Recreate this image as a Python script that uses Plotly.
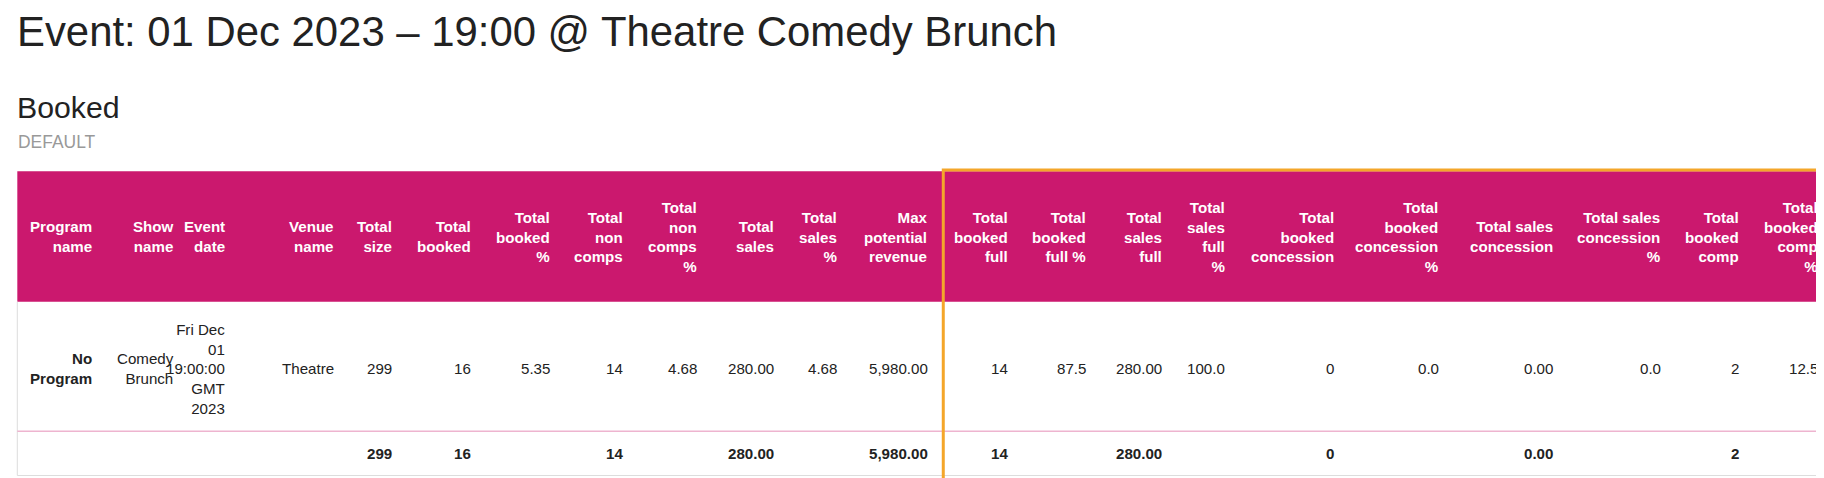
import plotly.graph_objects as go

# table data
headers = [
    "Program<br>name", "Show<br>name", "Event<br>date", "Venue<br>name", "Total<br>size",
    "Total<br>booked", "Total<br>booked<br>%", "Total<br>non<br>comps", "Total<br>non<br>comps<br>%",
    "Total<br>sales", "Total<br>sales<br>%", "Max<br>potential<br>revenue",
    "Total<br>booked<br>full", "Total<br>booked<br>full %", "Total<br>sales<br>full",
    "Total<br>sales<br>full<br>%", "Total<br>booked<br>concession", "Total<br>booked<br>concession<br>%",
    "Total sales<br>concession", "Total sales<br>concession<br>%", "Total<br>booked<br>comp",
    "Total<br>booked<br>comp<br>%",
]
row_values = [
    "<b>No<br>Program</b>", "Comedy<br>Brunch", "Fri Dec<br>01<br>19:00:00<br>GMT<br>2023", "Theatre",
    "299", "16", "5.35", "14", "4.68", "280.00", "4.68", "5,980.00",
    "14", "87.5", "280.00", "100.0", "0", "0.0", "0.00", "0.0", "2", "12.5",
]
totals = [
    "", "", "", "", "299", "16", "", "14", "", "280.00", "", "5,980.00",
    "14", "", "280.00", "", "0", "", "0.00", "", "2", "",
]

# layout constants (right edge of each column, in a 1568x410 design space)
col_right = [74, 144, 188, 282, 332, 400, 468, 530, 594, 660, 714, 793,
             861, 928, 994, 1048, 1142, 1232, 1330, 1423, 1490, 1558]
HEAD_TOP, HEAD_BOT, ROW_BOT, TOT_BOT = 140, 252, 363, 401
MAGENTA = "#CB186E"
FONT = "Liberation Sans, Arial, sans-serif"
S = 1824 / 1568  # font scale to window pixels

fig = go.Figure()

shapes = [
    dict(type="rect", x0=8, x1=1566, y0=HEAD_TOP, y1=HEAD_BOT, fillcolor=MAGENTA, line_width=0),
    dict(type="line", x0=8, x1=8, y0=HEAD_BOT, y1=TOT_BOT, line=dict(color="#dddddd", width=1)),
    dict(type="line", x0=8, x1=1566, y0=TOT_BOT, y1=TOT_BOT, line=dict(color="#dddddd", width=1)),
    dict(type="line", x0=8, x1=1566, y0=ROW_BOT, y1=ROW_BOT, line=dict(color="#eeb4cf", width=1.5)),
    dict(type="rect", x0=804, x1=1566, y0=139, y1=408, line=dict(color="#F4A62A", width=3)),
]

annotations = [
    dict(x=6, y=20, text="Event: 01 Dec 2023 \u2013 19:00 @ Theatre Comedy Brunch", xanchor="left",
         yanchor="middle", font=dict(size=36 * S, color="#222222")),
    dict(x=6, y=85, text="Booked", xanchor="left", yanchor="middle", font=dict(size=26 * S, color="#222222")),
    dict(x=7, y=115, text="DEFAULT", xanchor="left", yanchor="middle", font=dict(size=15 * S, color="#999999")),
]
fs = 13 * S
for xr, h, v, t in zip(col_right, headers, row_values, totals):
    annotations.append(dict(x=xr, y=(HEAD_TOP + HEAD_BOT) / 2, text=f"<b>{h}</b>", xanchor="right",
                            yanchor="middle", align="right", font=dict(size=fs, color="white")))
    annotations.append(dict(x=xr, y=(HEAD_BOT + ROW_BOT) / 2 + 2, text=v, xanchor="right",
                            yanchor="middle", align="right", font=dict(size=fs, color="#222222")))
    if t:
        annotations.append(dict(x=xr, y=(ROW_BOT + TOT_BOT) / 2, text=f"<b>{t}</b>", xanchor="right",
                                yanchor="middle", align="right", font=dict(size=fs, color="#222222")))

for a in annotations:
    a.update(xref="x", yref="y", showarrow=False)

fig.update_layout(
    width=1824, height=478,
    margin=dict(l=0, r=0, t=0, b=0),
    plot_bgcolor="white", paper_bgcolor="white",
    font=dict(family=FONT),
    xaxis=dict(range=[0, 1568], visible=False, fixedrange=True),
    yaxis=dict(range=[410, 0], visible=False, fixedrange=True),
    shapes=shapes, annotations=annotations, showlegend=False,
)

fig.write_html("out.html", config={"displayModeBar": False})
